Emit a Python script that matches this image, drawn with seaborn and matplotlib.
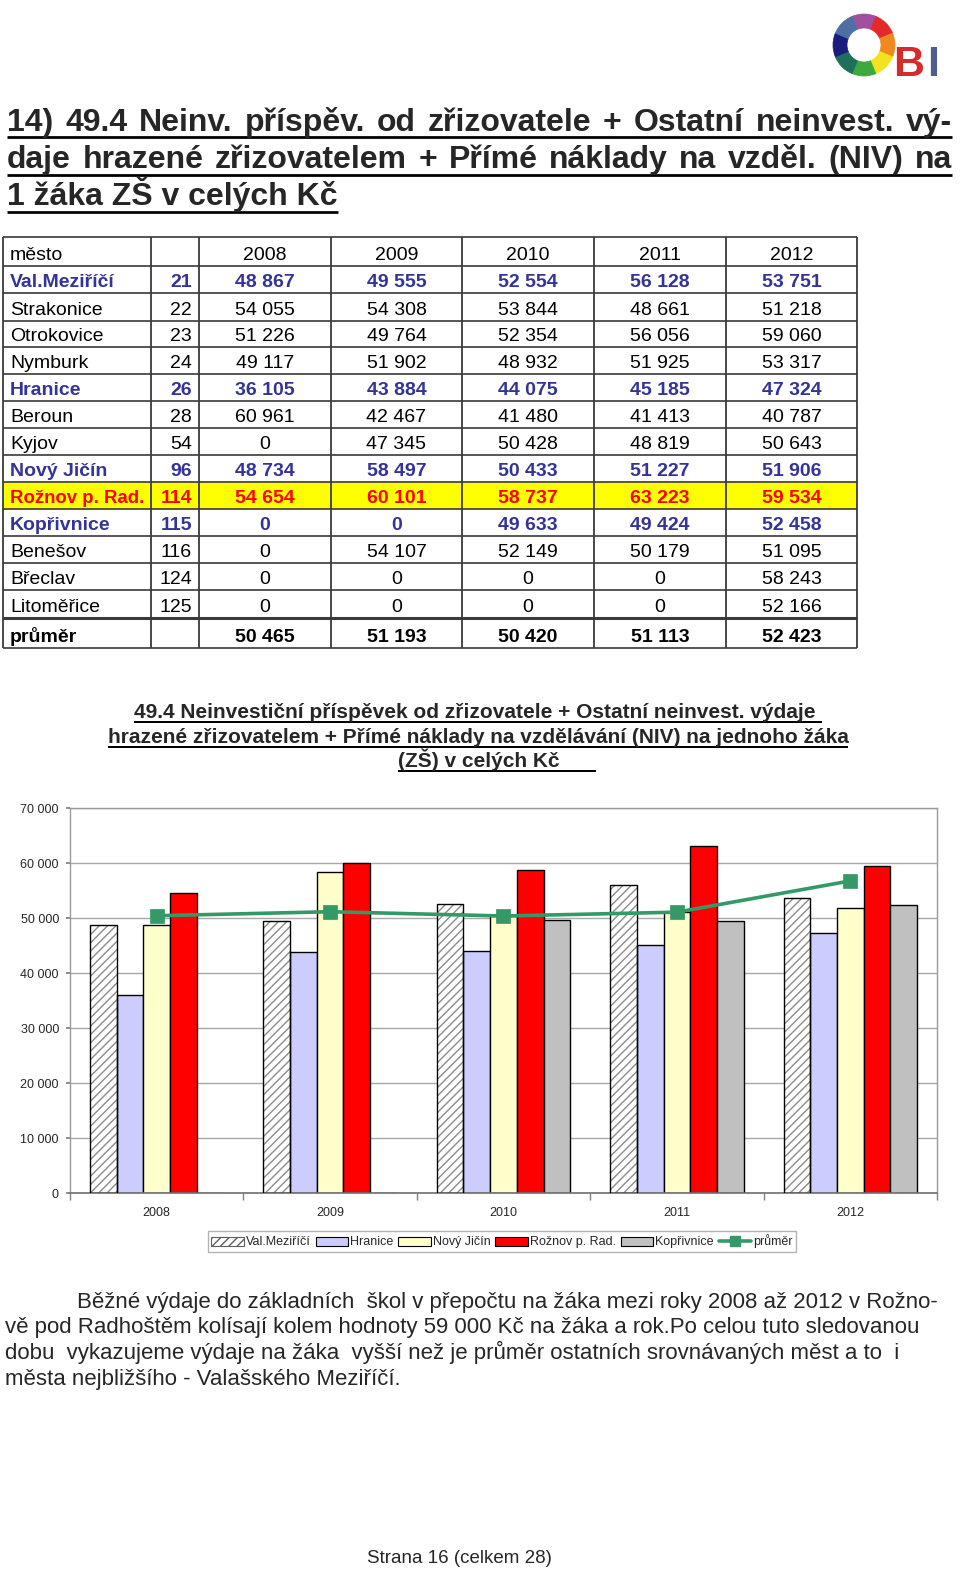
import numpy as np
import pandas as pd
import matplotlib
matplotlib.use("Agg")
import matplotlib.pyplot as plt
import seaborn as sns
from matplotlib.patches import Rectangle, Wedge, Patch
from matplotlib.lines import Line2D
from matplotlib.ticker import MultipleLocator, FuncFormatter, FixedLocator

# ---------------- data ----------------
years = ["2008", "2009", "2010", "2011", "2012"]
cities = ["Val.Meziříčí", "Strakonice", "Otrokovice", "Nymburk", "Hranice", "Beroun",
          "Kyjov", "Nový Jičín", "Rožnov p. Rad.", "Kopřivnice", "Benešov", "Břeclav",
          "Litoměřice"]
codes = [21, 22, 23, 24, 26, 28, 54, 96, 114, 115, 116, 124, 125]
v2008 = [48867, 54055, 51226, 49117, 36105, 60961, 0, 48734, 54654, 0, 0, 0, 0]
v2009 = [49555, 54308, 49764, 51902, 43884, 42467, 47345, 58497, 60101, 0, 54107, 0, 0]
v2010 = [52554, 53844, 52354, 48932, 44075, 41480, 50428, 50433, 58737, 49633, 52149, 0, 0]
v2011 = [56128, 48661, 56056, 51925, 45185, 41413, 48819, 51227, 63223, 49424, 50179, 0, 0]
v2012 = [53751, 51218, 59060, 53317, 47324, 40787, 50643, 51906, 59534, 52458, 51095, 58243, 52166]
avg_table = [50465, 51193, 50420, 51113, 52423]

chart_cities = ["Val.Meziříčí", "Hranice", "Nový Jičín", "Rožnov p. Rad.", "Kopřivnice"]
chart_avg = [50465, 51193, 50420, 51113, 56800]   # průměr as drawn in the chart
avg_label = "průměr"

title_lines = ["14) 49.4 Neinv. příspěv. od zřizovatele + Ostatní neinvest. vý-",
               "daje hrazené zřizovatelem + Přímé náklady na vzděl. (NIV) na",
               "1 žáka ZŠ v celých Kč"]
chart_title_lines = ["49.4 Neinvestiční příspěvek od zřizovatele + Ostatní neinvest. výdaje",
                     "hrazené zřizovatelem + Přímé náklady na vzdělávání (NIV) na jednoho žáka",
                     "(ZŠ) v celých Kč"]
para_lines = ["Běžné výdaje do základních  škol v přepočtu na žáka mezi roky 2008 až 2012 v Rožno-",
              "vě pod Radhoštěm kolísají kolem hodnoty 59 000 Kč na žáka a rok.Po celou tuto sledovanou",
              "dobu  vykazujeme výdaje na žáka  vyšší než je průměr ostatních srovnávaných měst a to  i",
              "města nejbližšího - Valašského Meziříčí."]
footer = "Strana 16 (celkem 28)"

# ---------------- style ----------------
sns.set_theme(style="white")
plt.rcParams["font.family"] = ["Liberation Sans", "DejaVu Sans"]
plt.rcParams["hatch.linewidth"] = 1.0
NARROW = ["Liberation Sans Narrow", "Liberation Sans", "DejaVu Sans"]

BLUE = "#333399"
RED = "#FF0000"
bar_colors = {"Val.Meziříčí": "#FFFFFF", "Hranice": "#CCCCFF", "Nový Jičín": "#FFFFCC",
              "Rožnov p. Rad.": "#FF0000", "Kopřivnice": "#C0C0C0"}
LINE_GREEN = "#339966"

W, H = 960, 1571
fig = plt.figure(figsize=(W / 100, H / 100), dpi=100)
bg = fig.add_axes([0, 0, 1, 1])
bg.set_xlim(0, W)
bg.set_ylim(H, 0)
bg.axis("off")
renderer = fig.canvas.get_renderer()


def fmt(v):
    return f"{int(v):,}".replace(",", " ")


def underline(t, y, lw=2.5, extra=0):
    bb = t.get_window_extent(renderer)
    bg.plot([bb.x0, bb.x1 + extra], [y, y], color="black", lw=lw * 0.72,
            solid_capstyle="butt")


def justify(words, x0, x1, y, **kw):
    texts = [bg.text(0, y, w, ha="left", va="baseline", **kw) for w in words]
    widths = [t.get_window_extent(renderer).width for t in texts]
    gap = (x1 - x0 - sum(widths)) / (len(words) - 1)
    x = x0
    for t, w in zip(texts, widths):
        t.set_x(x)
        x += w + gap


# ---------------- logo ----------------
ring_colors = ["#A24FA0", "#E22A2A", "#F08A1E", "#F4E21E", "#3EA83E", "#1F6F5A",
               "#1C1C80", "#4D6FA3"]
for i, c in enumerate(ring_colors):
    a = -90 + 45 * i
    bg.add_patch(Wedge((864, 45), 31, a - 22.5, a + 22.5, width=14, facecolor=c,
                       edgecolor=c, lw=0.5))
bg.text(893, 76, "B", color="#D42B2B", fontsize=31, fontweight="bold",
        family=NARROW, ha="left", va="baseline")
bg.text(927, 76, "I", color="#4E5C8E", fontsize=31, fontweight="bold",
        family=NARROW, ha="left", va="baseline")

# ---------------- page title ----------------
tfs = 23
justify(title_lines[0].split(" "), 7, 952, 131, fontsize=tfs, fontweight="bold")
justify(title_lines[1].split(" "), 7, 952, 168, fontsize=tfs, fontweight="bold")
bg.plot([7, 952], [137, 137], color="black", lw=2.0, solid_capstyle="butt")
bg.plot([7, 952], [174.5, 174.5], color="black", lw=2.0, solid_capstyle="butt")
t3 = bg.text(7, 205, title_lines[2], fontsize=tfs, fontweight="bold", ha="left",
             va="baseline")
underline(t3, 212, lw=2.7)

# ---------------- table ----------------
col_x = [3, 151, 199, 331, 462, 594, 726, 857]
row_y = [237, 266, 293, 321, 347, 374, 401, 428, 455, 482, 509, 536, 563, 590, 618, 648]
blue_rows = {"Val.Meziříčí", "Hranice", "Nový Jičín", "Kopřivnice"}
red_rows = {"Rožnov p. Rad."}
cols = [v2008, v2009, v2010, v2011, v2012]
tab_fs = 14

# yellow highlight
for i, c in enumerate(cities):
    if c in red_rows:
        bg.add_patch(Rectangle((col_x[0], row_y[i + 1]), col_x[-1] - col_x[0],
                               row_y[i + 2] - row_y[i + 1], facecolor="#FFFF00",
                               edgecolor="none", zorder=0))


def cell_text(ri, ci, s, color="black", bold=False, align="center"):
    yb = row_y[ri + 1] - 6
    if align == "left":
        x, ha = col_x[ci] + 7, "left"
    elif align == "right":
        x, ha = col_x[ci + 1] - 7, "right"
    else:
        x, ha = (col_x[ci] + col_x[ci + 1]) / 2, "center"
    fs = tab_fs
    if align == "left" and bold and len(s) > 12:
        fs = tab_fs - 0.6
    bg.text(x, yb, s, fontsize=fs, color=color, ha=ha, va="baseline",
            fontweight="bold" if bold else "normal")


cell_text(0, 0, "město", align="left")
for j, y in enumerate(years):
    cell_text(0, 2 + j, y)
for i, c in enumerate(cities):
    if c in blue_rows:
        color, bold = BLUE, True
    elif c in red_rows:
        color, bold = RED, True
    else:
        color, bold = "black", False
    cell_text(i + 1, 0, c, color, bold, "left")
    cell_text(i + 1, 1, str(codes[i]), color, bold, "right")
    for j in range(5):
        cell_text(i + 1, 2 + j, fmt(cols[j][i]), color, bold)
last = len(row_y) - 2
cell_text(last, 0, avg_label, "black", True, "left")
for j in range(5):
    cell_text(last, 2 + j, fmt(avg_table[j]), "black", True)

lc = "#3A3A3A"
for k, y in enumerate(row_y):
    lw = 2.2 if k == len(row_y) - 2 else 1.2
    bg.plot([col_x[0], col_x[-1]], [y, y], color=lc, lw=lw, solid_capstyle="butt")
for x in col_x:
    bg.plot([x, x], [row_y[0], row_y[-1]], color=lc, lw=1.3, solid_capstyle="butt")

# ---------------- chart title ----------------
ctfs = 15
c1 = bg.text(478, 718, chart_title_lines[0] + " ", fontsize=ctfs, fontweight="bold",
             family=NARROW, ha="center", va="baseline")
c2 = bg.text(478, 743, chart_title_lines[1], fontsize=ctfs, fontweight="bold",
             family=NARROW, ha="center", va="baseline")
c3 = bg.text(398, 767, chart_title_lines[2], fontsize=ctfs, fontweight="bold",
             family=NARROW, ha="left", va="baseline")
underline(c1, 722, lw=2.0)
underline(c2, 747, lw=2.0)
underline(c3, 771, lw=2.0, extra=36)

# ---------------- chart ----------------
ax = fig.add_axes([70 / W, 1 - 1193.3 / H, 867 / W, (1193.3 - 808.3) / H])
rows = []
for c in chart_cities:
    i = cities.index(c)
    for j, y in enumerate(years):
        rows.append({"year": y, "city": c, "value": cols[j][i]})
df = pd.DataFrame(rows)

sns.barplot(data=df, x="year", y="value", hue="city", hue_order=chart_cities,
            order=years, palette=bar_colors, width=0.77, gap=0, saturation=1,
            edgecolor="black", linewidth=1.0, errorbar=None, legend=False, ax=ax,
            zorder=2)

# hatch for Val.Meziříčí bars (grey hatch, black outline)
for bar in ax.containers[0]:
    bar.set_hatch("////")
    bar.set_edgecolor("#8C8C8C")
    bar.set_linewidth(0)
    ax.add_patch(Rectangle(bar.get_xy(), bar.get_width(), bar.get_height(),
                           fill=False, edgecolor="black", lw=1.0, zorder=3))

sns.pointplot(x=years, y=chart_avg, order=years, color=LINE_GREEN, markers="s",
              markersize=8.5, linewidth=2.6, errorbar=None, ax=ax, zorder=5)

ax.set_xlim(-0.5, 4.5)
ax.set_ylim(0, 70000)
ax.yaxis.set_major_locator(MultipleLocator(10000))
ax.yaxis.set_major_formatter(FuncFormatter(lambda v, p: fmt(v)))
ax.grid(axis="y", color="#A8A8A8", lw=1.0)
ax.grid(axis="x", visible=False)
ax.set_axisbelow(True)
ax.set_xlabel("")
ax.set_ylabel("")
for s in ["left", "right", "top"]:
    ax.spines[s].set_color("#9A9A9A")
    ax.spines[s].set_linewidth(1.0)
ax.spines["bottom"].set_color("#707070")
ax.spines["bottom"].set_linewidth(1.2)
ax.tick_params(axis="y", length=3, color="#808080", labelsize=9, pad=5, left=True)
ax.xaxis.set_minor_locator(FixedLocator([-0.5, 0.5, 1.5, 2.5, 3.5, 4.5]))
ax.tick_params(axis="x", which="major", length=0, labelsize=9, pad=10)
ax.tick_params(axis="x", which="minor", length=5, color="#808080", bottom=True)

# legend
handles = [Patch(facecolor="white", edgecolor="#606060", hatch="////", lw=0.8)]
for c in chart_cities[1:]:
    handles.append(Patch(facecolor=bar_colors[c], edgecolor="black", lw=0.8))
handles.append(Line2D([0], [0], color=LINE_GREEN, lw=2.6, marker="s", markersize=7))
leg = fig.legend(handles, chart_cities + [avg_label], loc="center",
                 bbox_to_anchor=(502 / W, 1 - 1241.5 / H), ncol=6, fontsize=9,
                 frameon=True, fancybox=False, edgecolor="#A0A0A0",
                 handlelength=2.6, handleheight=0.75, handletextpad=0.15,
                 columnspacing=0.4, borderpad=0.25, borderaxespad=0)
leg.get_frame().set_linewidth(1.0)

# ---------------- paragraph ----------------
pfs = 16
para_x = [77, 5, 5, 5]
para_y = [1308, 1333, 1359, 1385]
for x, y, s in zip(para_x, para_y, para_lines):
    bg.text(x, y, s, fontsize=pfs, family=NARROW, ha="left", va="baseline")

bg.text(459, 1563, footer, fontsize=13.5, ha="center", va="baseline")

fig.savefig("out.png", dpi=100, facecolor="white")
